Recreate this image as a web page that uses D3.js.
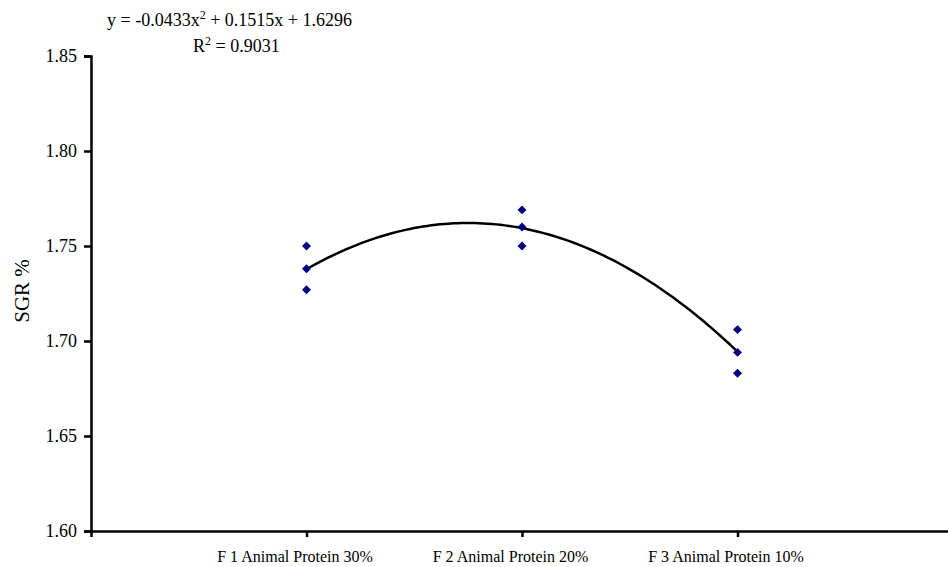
<!doctype html>
<html>
<head>
    <style>
        body { margin: 0; background: #fff; }
        svg text { font-family: "Liberation Serif", "Times New Roman", serif; fill: #000; }
        .axis path, .axis line { stroke: #000; stroke-width: 2.5; }
</style>
    <script src="https://d3js.org/d3.v7.min.js"></script>
</head>
<body>
<svg width="948" height="567"></svg>
<script>

    // categories and SGR values (three replicates per diet)
    var categories = ["F 1 Animal Protein 30%", "F 2 Animal Protein 20%", "F 3 Animal Protein 10%"];
    var f1 = [1.750, 1.738, 1.727];
    var f2 = [1.769, 1.760, 1.750];
    var f3 = [1.706, 1.694, 1.683];
    var yTicks = [1.60, 1.65, 1.70, 1.75, 1.80, 1.85];
    // polynomial trendline y = a x^2 + b x + c
    var trendCoef = [-0.0433, 0.1515, 1.6296];
    var rSquared = 0.9031;

    var serif = "'Liberation Serif', 'Times New Roman', serif";
    var svg = d3.select("svg");

    var x = d3.scaleLinear().domain([0, 4]).range([91, 953]),
        y = d3.scaleLinear().domain([1.60, 1.85]).range([531, 56]);

    var points = [];
    [f1, f2, f3].forEach(function(vals, i) {
        vals.forEach(function(v) { points.push({ x: i + 1, y: v }); });
    });

    // y axis
    svg.append("g")
       .attr("class", "axis")
       .attr("transform", "translate(" + x(0) + ",0)")
       .call(d3.axisLeft(y).tickValues(yTicks).tickFormat(d3.format(".2f"))
             .tickSizeOuter(0).tickSize(7).tickPadding(7))
       .attr("font-family", serif)
       .attr("font-size", 18);

    // x axis
    var xg = svg.append("g")
       .attr("class", "axis")
       .attr("transform", "translate(0," + y(1.60) + ")")
       .call(d3.axisBottom(x).tickValues([1, 2, 3]).tickSizeOuter(0).tickSize(6)
             .tickFormat(function(d) { return categories[d - 1]; }))
       .attr("font-family", serif)
       .attr("font-size", 16);
    xg.selectAll("text").attr("dx", "-12").attr("dy", "1.35em");

    svg.append("text")
       .attr("transform", "translate(29,291) rotate(-90)")
       .attr("text-anchor", "middle")
       .attr("font-size", 21)
       .text("SGR %");

    // trendline
    var curve = d3.range(1, 3.001, 0.02).map(function(t) {
        return { x: t, y: trendCoef[0] * t * t + trendCoef[1] * t + trendCoef[2] };
    });
    svg.append("path")
       .datum(curve)
       .attr("fill", "none")
       .attr("stroke", "#000")
       .attr("stroke-width", 2.5)
       .attr("d", d3.line().x(function(d) { return x(d.x); }).y(function(d) { return y(d.y); }));

    // markers
    svg.selectAll(".pt")
       .data(points)
       .enter().append("path")
       .attr("class", "pt")
       .attr("fill", "#000080")
       .attr("d", d3.symbol(d3.symbolSquare, 40))
       .attr("transform", function(d) { return "translate(" + x(d.x) + "," + y(d.y) + ") rotate(45)"; });

    // equation text
    var eq = svg.append("text").attr("x", 107).attr("y", 26).attr("font-size", 18);
    eq.append("tspan").text("y = " + trendCoef[0] + "x");
    eq.append("tspan").attr("font-size", 12).attr("dy", "-7").text("2");
    eq.append("tspan").attr("dy", "7").text(" + " + trendCoef[1] + "x + " + trendCoef[2]);

    var r2 = svg.append("text").attr("x", 193).attr("y", 52).attr("font-size", 18);
    r2.append("tspan").text("R");
    r2.append("tspan").attr("font-size", 12).attr("dy", "-7").text("2");
    r2.append("tspan").attr("dy", "7").text(" = " + rSquared);

</script>
</body>
</html>
